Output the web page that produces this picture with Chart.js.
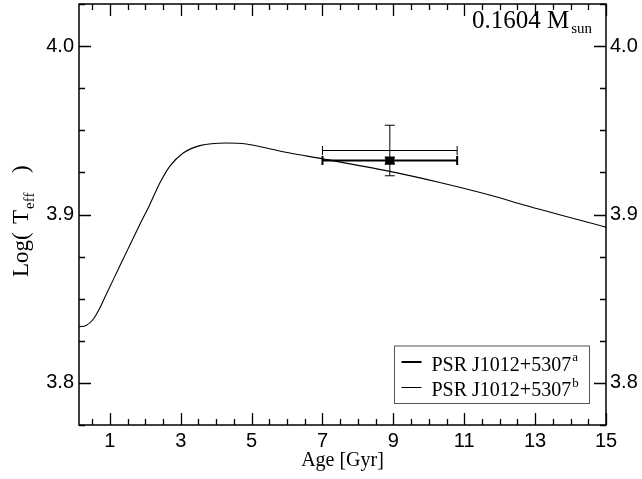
<!DOCTYPE html>
<html>
<head>
<meta charset="utf-8">
<script src="https://cdn.jsdelivr.net/npm/chart.js@4"></script>
<style>
  html, body { margin: 0; padding: 0; background: #ffffff; }
  #wrap { width: 642px; height: 479px; }
</style>
</head>
<body>
<div id="wrap"><canvas id="c" width="642" height="479"></canvas></div>
<script>
// ---- data ----
const ageGyr  = [0.13, 0.33, 0.52, 0.70, 0.89, 1.22, 1.50, 1.88, 2.13, 2.26, 2.41, 2.69, 3.07, 3.54, 4.29, 4.85, 5.42, 6.08, 6.97, 8.90, 10.31, 11.87, 12.66, 15.00];
const logTeff = [3.8333, 3.8341, 3.8375, 3.8438, 3.8522, 3.8667, 3.8790, 3.8955, 3.9060, 3.9120, 3.9187, 3.9286, 3.9365, 3.9409, 3.9425, 3.9419, 3.9395, 3.9365, 3.9332, 3.9256, 3.9190, 3.9107, 3.9058, 3.8925];

// measurements: a (thick), b (thin)
const obsNames = ['PSR J1012+5307', 'PSR J1012+5307'];
const obsSup   = ['a', 'b'];
const obsAge   = [8.9, 8.9];
const obsAgeLo = [7.0, 7.0];
const obsAgeHi = [10.8, 10.8];
const obsT     = [3.932, 3.938];
const obsTLo   = [3.9302, 3.923];
const obsTHi   = [3.9338, 3.953];

const xTicks = [1, 3, 5, 7, 9, 11, 13, 15];
const yTicks = [3.8, 3.9, 4.0];
const xMinor = [0.5, 1.5, 2, 2.5, 3.5, 4, 4.5, 5.5, 6, 6.5, 7.5, 8, 8.5, 9.5, 10, 10.5, 11.5, 12, 12.5, 13.5, 14, 14.5];
const yMinor = [3.775, 3.825, 3.85, 3.875, 3.925, 3.95, 3.975, 4.025];

const massLabel = '0.1604 M';
const massSub = 'sun';

const SERIF = '"Liberation Serif", "Times New Roman", serif';
const SANS = '"Liberation Sans", Arial, Helvetica, sans-serif';

const curve = ageGyr.map((x, i) => ({ x: x, y: logTeff[i] }));

const decor = {
  id: 'decor',
  afterDraw(chart) {
    const ctx = chart.ctx;
    const xs = chart.scales.x, ys = chart.scales.y;
    const a = chart.chartArea;
    ctx.save();
    ctx.strokeStyle = '#000';
    const drawX = (vals, len) => {
      vals.forEach(v => {
        const px = Math.round(xs.getPixelForValue(v)) + 0.5;
        ctx.beginPath();
        ctx.moveTo(px, a.bottom); ctx.lineTo(px, a.bottom - len);
        ctx.moveTo(px, a.top); ctx.lineTo(px, a.top + len);
        ctx.stroke();
      });
    };
    const drawY = (vals, len) => {
      vals.forEach(v => {
        const py = Math.round(ys.getPixelForValue(v)) + 0.5;
        ctx.beginPath();
        ctx.moveTo(a.left, py); ctx.lineTo(a.left + len, py);
        ctx.moveTo(a.right, py); ctx.lineTo(a.right - len, py);
        ctx.stroke();
      });
    };
    ctx.lineWidth = 1.3;
    drawX(xTicks, 12); drawX(xMinor, 6);
    drawY(yTicks, 12); drawY(yMinor, 6);
    ctx.lineWidth = 1.5;
    ctx.strokeRect(a.left, a.top, a.right - a.left, a.bottom - a.top);

    // error bars
    const widths = [2, 1];
    for (let i = 0; i < obsAge.length; i++) {
      ctx.lineWidth = widths[i];
      const cx = xs.getPixelForValue(obsAge[i]);
      const cy = ys.getPixelForValue(obsT[i]);
      const xl = xs.getPixelForValue(obsAgeLo[i]);
      const xh = xs.getPixelForValue(obsAgeHi[i]);
      const yl = ys.getPixelForValue(obsTLo[i]);
      const yh = ys.getPixelForValue(obsTHi[i]);
      ctx.beginPath();
      ctx.moveTo(xl, cy); ctx.lineTo(xh, cy);
      ctx.moveTo(xl, cy - 4.5); ctx.lineTo(xl, cy + 4.5);
      ctx.moveTo(xh, cy - 4.5); ctx.lineTo(xh, cy + 4.5);
      ctx.moveTo(cx, yl); ctx.lineTo(cx, yh);
      ctx.moveTo(cx - 5, yl); ctx.lineTo(cx + 5, yl);
      ctx.moveTo(cx - 5, yh); ctx.lineTo(cx + 5, yh);
      ctx.stroke();
    }
    ctx.fillStyle = '#000';
    const mx = xs.getPixelForValue(obsAge[0]), my = ys.getPixelForValue(obsT[0]);
    ctx.fillRect(mx - 4.5, my - 3, 9, 6);

    // mass label
    ctx.fillStyle = '#000';
    ctx.textBaseline = 'alphabetic';
    ctx.textAlign = 'left';
    ctx.font = '25px ' + SERIF;
    ctx.fillText(massLabel, 472, 28);
    const mw = ctx.measureText(massLabel).width;
    ctx.font = '15px ' + SERIF;
    ctx.fillText(massSub, 472 + mw + 2, 33);

    // legend
    const lx = a.left + 315, ly = a.top + 341.5, lw = 195, lh = 57.5;
    ctx.fillStyle = '#fff';
    ctx.fillRect(lx, ly, lw, lh);
    ctx.strokeStyle = '#555';
    ctx.lineWidth = 1;
    ctx.strokeRect(lx + 0.5, ly + 0.5, lw, lh);
    ctx.strokeStyle = '#000';
    const rows = [ly + 16.5, ly + 42];
    for (let i = 0; i < 2; i++) {
      ctx.lineWidth = widths[i];
      ctx.beginPath();
      ctx.moveTo(lx + 7.5, rows[i]); ctx.lineTo(lx + 27.5, rows[i]);
      ctx.stroke();
      ctx.fillStyle = '#000';
      ctx.font = '20px ' + SERIF;
      ctx.fillText(obsNames[i], lx + 37.5, rows[i] + 8.5);
      const w = ctx.measureText(obsNames[i]).width;
      ctx.font = '13px ' + SERIF;
      ctx.fillText(obsSup[i], lx + 37.5 + w + 1, rows[i] - 1);
    }

    // y title (rotated)
    ctx.save();
    ctx.translate(28, 277);
    ctx.rotate(-Math.PI / 2);
    ctx.fillStyle = '#000';
    ctx.font = '23px ' + SERIF;
    ctx.fillText('Log(', 0, 0);
    ctx.fillText('T', 53, 0);
    const wT = ctx.measureText('T').width;
    ctx.font = '15px ' + SERIF;
    ctx.fillText('eff', 53 + wT + 1, 6);
    ctx.font = '23px ' + SERIF;
    ctx.fillText(')', 104, 0);
    ctx.restore();

    // x title
    ctx.font = '20px ' + SERIF;
    ctx.textAlign = 'center';
    ctx.fillText('Age [Gyr]', (a.left + a.right) / 2, 466);
    ctx.restore();
  }
};

const tickFont = { family: SANS, size: 20 };
const noPadH = s => { s.paddingLeft = 0; s.paddingRight = 0; };
const noPadV = s => { s.paddingTop = 0; s.paddingBottom = 0; };

new Chart(document.getElementById('c'), {
  type: 'line',
  data: {
    datasets: [{
      label: 'track',
      data: curve,
      borderColor: '#000',
      borderWidth: 1.1,
      pointRadius: 0,
      fill: false,
      cubicInterpolationMode: 'monotone'
    }, {
      label: 'obs',
      data: obsAge.map((x, i) => ({ x: x, y: obsT[i] })),
      showLine: false,
      pointRadius: 0
    }]
  },
  options: {
    responsive: false,
    animation: false,
    devicePixelRatio: 1,
    layout: { padding: { top: 4, left: 0, right: 0, bottom: 0 } },
    plugins: { legend: { display: false }, tooltip: { enabled: false } },
    scales: {
      x: {
        type: 'linear', position: 'bottom', min: 0.13, max: 15,
        grid: { display: false, drawTicks: false }, border: { display: false },
        afterBuildTicks: s => { s.ticks = xTicks.map(v => ({ value: v })); },
        afterFit: s => { s.height = 54; noPadH(s); },
        ticks: { font: tickFont, color: '#000', padding: 4, maxRotation: 0, autoSkip: false, callback: v => String(v) }
      },
      y: {
        type: 'linear', position: 'left', min: 3.775, max: 4.025,
        grid: { display: false, drawTicks: false }, border: { display: false },
        afterBuildTicks: s => { s.ticks = yTicks.map(v => ({ value: v })); },
        afterFit: s => { s.width = 79; noPadV(s); },
        ticks: { font: tickFont, color: '#000', padding: 5, callback: v => Number(v).toFixed(1) }
      },
      y2: {
        type: 'linear', position: 'right', min: 3.775, max: 4.025,
        grid: { display: false, drawTicks: false }, border: { display: false },
        afterBuildTicks: s => { s.ticks = yTicks.map(v => ({ value: v })); },
        afterFit: s => { s.width = 36; noPadV(s); },
        ticks: { font: tickFont, color: '#000', padding: 4, callback: v => Number(v).toFixed(1) }
      }
    }
  },
  plugins: [decor]
});
</script>
</body>
</html>
